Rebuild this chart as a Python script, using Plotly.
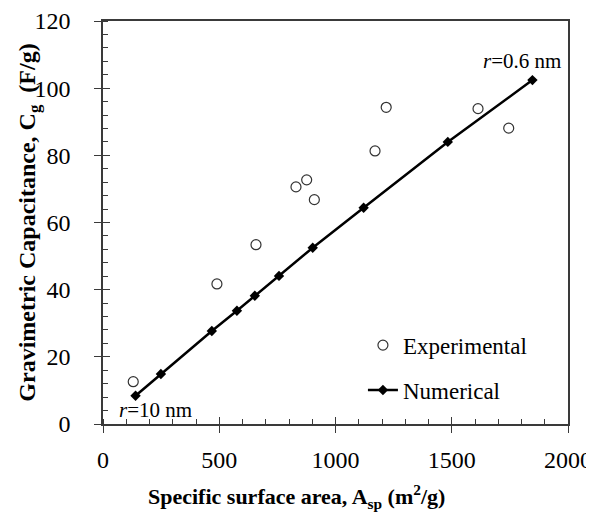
import plotly.graph_objects as go

# data
exp_area = [130, 490, 658, 830, 876, 909, 1170, 1218, 1613, 1745]
exp_cap = [12.6, 41.7, 53.4, 70.6, 72.7, 66.8, 81.3, 94.3, 93.9, 88.1]

num_area = [140, 249, 468, 576, 653, 757, 902, 1121, 1483, 1847]
num_cap = [8.4, 14.9, 27.7, 33.7, 38.2, 44.1, 52.5, 64.4, 84.0, 102.4]

x_range = [0, 2000]
y_range = [0, 120]

FONT = "Liberation Serif, Times New Roman, serif"
AXIS_COLOR = "#3a3a3a"

fig = go.Figure()

fig.add_trace(go.Scatter(
    x=exp_area, y=exp_cap, mode="markers", name="Experimental",
    xaxis="x2", yaxis="y2", legendgroup="a",
    marker=dict(symbol="circle-open", size=10, color="#333333", line=dict(width=1.2)),
))
fig.add_trace(go.Scatter(
    x=num_area, y=num_cap, mode="lines+markers", name="Numerical",
    legendgroup="b",
    line=dict(color="black", width=2.5),
    marker=dict(symbol="diamond", size=8, color="black"),
))

fig.add_annotation(x=60, y=4.3, xref="x", yref="y", xanchor="left", yanchor="middle",
                   text="<i>r</i>=10 nm", showarrow=False,
                   font=dict(family=FONT, size=21, color="black"))
fig.add_annotation(x=1978, y=108, xref="x", yref="y", xanchor="right", yanchor="middle",
                   text="<i>r</i>=0.6 nm", showarrow=False,
                   font=dict(family=FONT, size=21, color="black"))
# axis titles as annotations so they can be placed freely
fig.add_annotation(x=0.417, y=-0.181, xref="paper", yref="paper",
                   xanchor="center", yanchor="middle", showarrow=False,
                   text="<b>Specific surface area, A<sub>sp</sub> (m<sup>2</sup>/g)</b>",
                   font=dict(family=FONT, size=22, color="black"))
fig.add_annotation(x=-0.161, y=0.5, xref="paper", yref="paper",
                   xanchor="center", yanchor="middle", showarrow=False, textangle=-90,
                   text="<b>Gravimetric Capacitance, C<sub>g</sub>  (F/g)</b>",
                   font=dict(family=FONT, size=24, color="black"))

axis_common = dict(showgrid=False, zeroline=False, automargin=False)

# page body has an 8px margin, so the figure is made 8px smaller and margins trimmed
fig.update_layout(
    width=586, height=505,
    margin=dict(l=95, r=26, t=13, b=89),
    plot_bgcolor="white", paper_bgcolor="white",
    font=dict(family=FONT, size=24, color="black"),
    xaxis=dict(
        range=x_range, dtick=500, ticks="outside", ticklen=7, tickwidth=1.3,
        tickcolor=AXIS_COLOR, showline=True, linecolor=AXIS_COLOR, linewidth=1.5,
        mirror=True, ticklabelstandoff=6, tickfont=dict(size=24),
        minor=dict(ticks="inside", dtick=100, ticklen=5, tickcolor=AXIS_COLOR, tickwidth=1),
        **axis_common,
    ),
    yaxis=dict(
        range=y_range, dtick=20, ticks="outside", ticklen=7, tickwidth=1.3,
        tickcolor=AXIS_COLOR, showline=True, linecolor=AXIS_COLOR, linewidth=1.5,
        mirror=True, ticklabelstandoff=19, tickfont=dict(size=24),
        minor=dict(ticks="inside", dtick=4, ticklen=5, tickcolor=AXIS_COLOR, tickwidth=1),
        **axis_common,
    ),
    # overlay axes give the inside half of the crossing major ticks
    xaxis2=dict(range=x_range, dtick=500, overlaying="x", matches="x", ticks="inside",
                ticklen=7, tickwidth=1.3, tickcolor=AXIS_COLOR, showticklabels=False,
                side="bottom", anchor="y2", **axis_common),
    yaxis2=dict(range=y_range, dtick=20, overlaying="y", matches="y", ticks="inside",
                ticklen=7, tickwidth=1.3, tickcolor=AXIS_COLOR, showticklabels=False,
                side="left", anchor="x2", **axis_common),
    legend=dict(
        x=0.559, y=0.249, xanchor="left", yanchor="top",
        font=dict(family=FONT, size=23), bgcolor="rgba(0,0,0,0)",
        traceorder="grouped", tracegroupgap=12,
    ),
)

fig.write_html("out.html")
